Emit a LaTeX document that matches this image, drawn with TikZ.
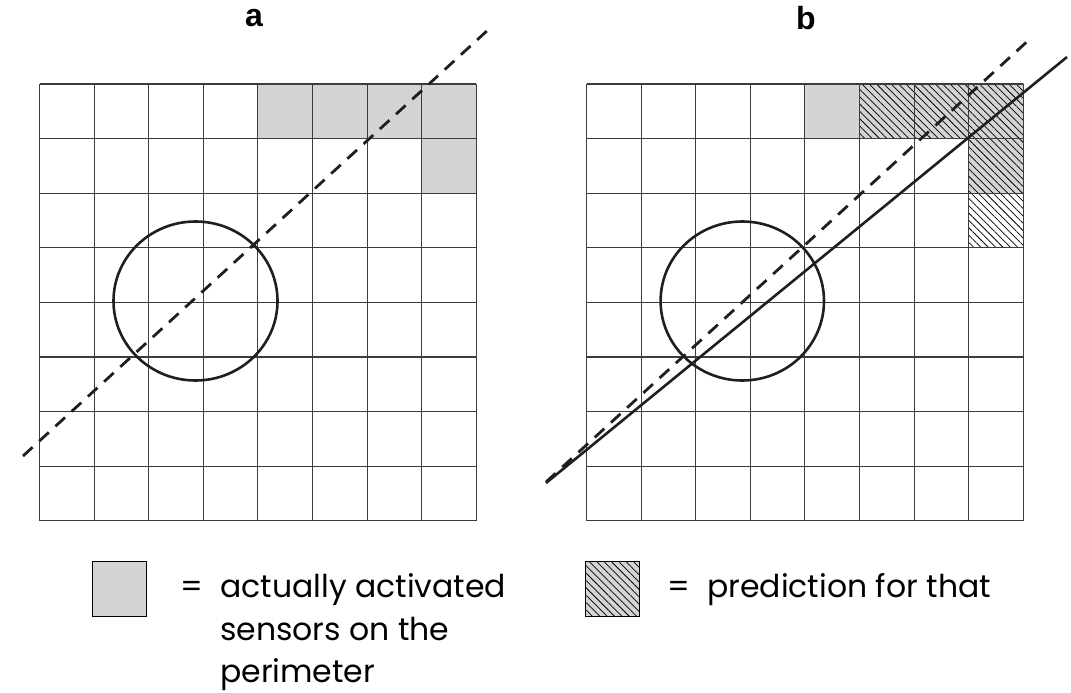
\documentclass[tikz,border=0pt]{standalone}
\usepackage{fontspec}
\setmainfont{Poppins}
\newfontfamily\labfont{Liberation Sans}
\usetikzlibrary{patterns.meta}
\definecolor{cellgray}{RGB}{211,212,214}
\definecolor{gridcol}{RGB}{60,60,60}
\begin{document}
\begin{tikzpicture}[x=1pt,y=-1pt,
  gridline/.style={draw=gridcol,line width=1.1pt},
  hatch/.style={pattern={Lines[angle=-45,distance=5.2pt,line width=0.75pt]}},
  ring/.style={draw=black!88,line width=2.6pt},
  dashln/.style={draw=black!88,line width=2.8pt,dash pattern=on 13pt off 9pt},
  solidln/.style={draw=black!88,line width=2.6pt},
  panel/.style={font=\labfont\bfseries\fontsize{32}{32}\selectfont,inner sep=0pt},
  legtext/.style={font=\fontsize{31.5}{43}\selectfont,inner sep=0pt,anchor=base west},
  legbox/.style={draw=black,line width=1pt,fill=cellgray}]
\useasboundingbox (0,0) rectangle (1071,693);
\def\cellsz{54.6}
% ---------- panel a ----------
\begin{scope}[shift={(39.5,84)}]
  \foreach \c in {4,...,7} \fill[cellgray] (\c*\cellsz,0) rectangle ++(\cellsz,\cellsz);
  \fill[cellgray] (7*\cellsz,\cellsz) rectangle ++(\cellsz,\cellsz);
  \foreach \i in {0,...,8} {
    \draw[gridline] (\i*\cellsz,0) -- (\i*\cellsz,8*\cellsz);
    \draw[gridline] (0,\i*\cellsz) -- (8*\cellsz,\i*\cellsz);
  }
\end{scope}
\draw[ring] (195.5,301) ellipse [x radius=82pt,y radius=79.5pt];
\coordinate (a1) at (23,456);
\coordinate (a2) at (489,29);
\draw[dashln] (a1) -- (a2);
\node[panel] (la) at (254,18) {a};
% ---------- panel b ----------
\begin{scope}[shift={(586.5,84)}]
  \foreach \c in {4,...,7} \fill[cellgray] (\c*\cellsz,0) rectangle ++(\cellsz,\cellsz);
  \fill[cellgray] (7*\cellsz,\cellsz) rectangle ++(\cellsz,\cellsz);
  \foreach \c in {5,6,7} \fill[hatch] (\c*\cellsz,0) rectangle ++(\cellsz,\cellsz);
  \fill[hatch] (7*\cellsz,\cellsz) rectangle ++(\cellsz,\cellsz);
  \fill[hatch] (7*\cellsz,2*\cellsz) rectangle ++(\cellsz,\cellsz);
  \foreach \i in {0,...,8} {
    \draw[gridline] (\i*\cellsz,0) -- (\i*\cellsz,8*\cellsz);
    \draw[gridline] (0,\i*\cellsz) -- (8*\cellsz,\i*\cellsz);
  }
\end{scope}
\draw[ring] (742.3,301) ellipse [x radius=81.7pt,y radius=79.5pt];
\coordinate (b1) at (546,482);
\coordinate (b2) at (1031,38);
\coordinate (c1) at (546,483);
\coordinate (c2) at (1067,57);
\draw[dashln] (b1) -- (b2);
\draw[solidln] (c1) -- (c2);
\node[panel] (lb) at (806,18) {b};
% ---------- legend ----------
\draw[legbox] (92,561.5) rectangle ++(\cellsz,\cellsz);
\node[legtext] (eqa) at (180,597) {=};
\node[legtext] (ta1) at (220,597) {actually activated};
\node[legtext] (ta2) at (220,640) {sensors on the};
\node[legtext] (ta3) at (220,682) {perimeter};
\draw[legbox] (585,561.5) rectangle ++(\cellsz,\cellsz);
\fill[hatch] (585,561.5) rectangle ++(\cellsz,\cellsz);
\node[legtext] (eqb) at (667,597) {=};
\node[legtext] (tb1) at (707,597) {prediction for that};
\end{tikzpicture}
\end{document}
